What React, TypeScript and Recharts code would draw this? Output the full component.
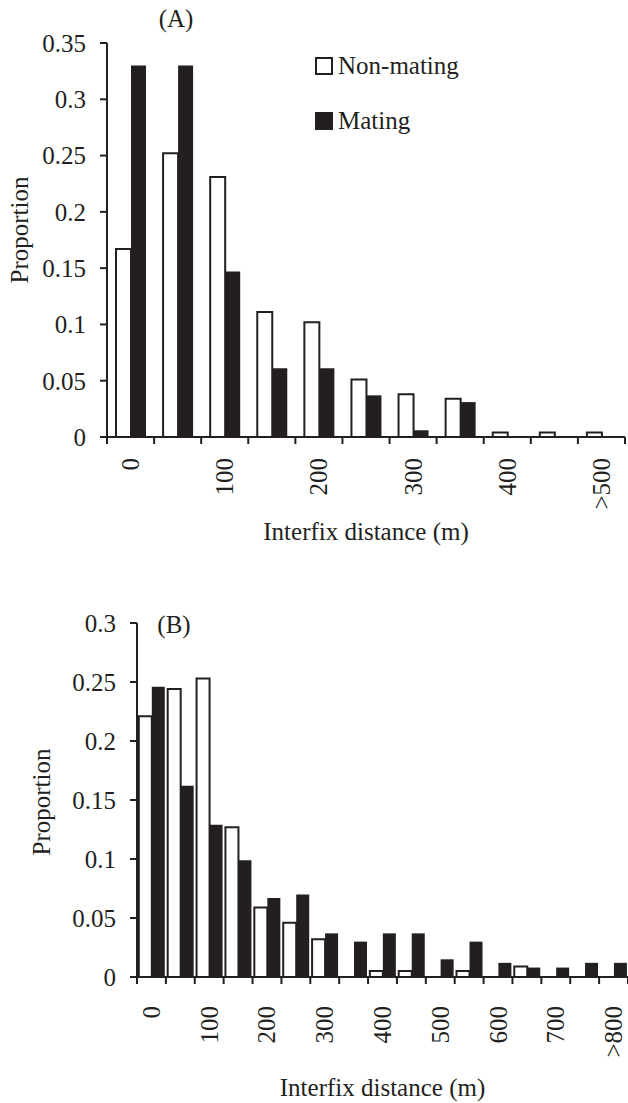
import React from 'react'
import { BarChart, Bar, XAxis, YAxis, Legend } from 'recharts'

// panel A: 50 m bins
const binsA = ['0', '50', '100', '150', '200', '250', '300', '350', '400', '450', '>500']
const labelsA = ['0', '', '100', '', '200', '', '300', '', '400', '', '>500']
const nonMatingA = [0.167, 0.252, 0.231, 0.111, 0.102, 0.051, 0.038, 0.034, 0.004, 0.004, 0.004]
const matingA = [0.33, 0.33, 0.147, 0.061, 0.061, 0.037, 0.006, 0.031, 0, 0, 0]
const yTicksA = [0, 0.05, 0.1, 0.15, 0.2, 0.25, 0.3, 0.35]

// panel B: 50 m bins
const binsB = ['0', '50', '100', '150', '200', '250', '300', '350', '400', '450', '500', '550', '600', '650', '700', '750', '>800']
const labelsB = ['0', '', '100', '', '200', '', '300', '', '400', '', '500', '', '600', '', '700', '', '>800']
const nonMatingB = [0.221, 0.244, 0.253, 0.127, 0.059, 0.046, 0.032, 0, 0.005, 0.005, 0, 0.005, 0, 0.009, 0, 0, 0]
const matingB = [0.246, 0.162, 0.129, 0.099, 0.067, 0.07, 0.037, 0.03, 0.037, 0.037, 0.015, 0.03, 0.012, 0.008, 0.008, 0.012, 0.012]
const yTicksB = [0, 0.05, 0.1, 0.15, 0.2, 0.25, 0.3]

const seriesNames = ['Non-mating', 'Mating']

const ink = '#231f20'
const font = '"Liberation Serif", "Times New Roman", serif'

const dataA = binsA.map((bin, i) => ({ bin, nonMating: nonMatingA[i], mating: matingA[i] }))
const dataB = binsB.map((bin, i) => ({ bin, nonMating: nonMatingB[i], mating: matingB[i] }))

// ticks sit on bin edges, labels are rotated under every other bin
// eslint-disable-next-line @typescript-eslint/no-explicit-any
const makeTick = (labels: string[], gap: number) => (props: any) => {
  const { x, y, payload, index } = props
  const half = payload?.offset ?? 0
  return (
    <g>
      <line x1={x - half} x2={x - half} y1={y} y2={y + 7} stroke={ink} strokeWidth={2} />
      {index === labels.length - 1 && (
        <line x1={x + half} x2={x + half} y1={y} y2={y + 7} stroke={ink} strokeWidth={2} />
      )}
      <text
        transform={`translate(${x},${y + gap}) rotate(-90)`}
        textAnchor="end"
        dy="0.34em"
        fill={ink}
        fontSize={25}
        fontFamily={font}
      >
        {labels[index]}
      </text>
    </g>
  )
}

const LegendBox = () => (
  <div style={{ fontFamily: font, fontSize: 25, color: ink }}>
    {seriesNames.map((name, i) => (
      <div key={name} style={{ display: 'flex', alignItems: 'center', height: 36, marginTop: i ? 19 : 0 }}>
        <div
          style={{
            width: 18,
            height: 18,
            boxSizing: 'border-box',
            border: `2px solid ${ink}`,
            background: i ? ink : '#fff',
          }}
        />
        <span style={{ marginLeft: 5, whiteSpace: 'nowrap' }}>{name}</span>
      </div>
    ))}
  </div>
)

const yTick = { fill: ink, fontSize: 25, fontFamily: font }
const line = { stroke: ink, strokeWidth: 2 }
const xLabel = (offset: number) => ({
  value: 'Interfix distance (m)',
  position: 'insideBottom' as const,
  offset,
  fill: ink,
  fontSize: 25,
  fontFamily: font,
})

export default function App() {
  return (
    <div style={{ position: 'absolute', left: 0, top: 0, width: 628, height: 1103, background: '#fff' }}>
      <BarChart
        width={628}
        height={580}
        data={dataA}
        margin={{ top: 43, right: 3, bottom: 0, left: 0 }}
        barCategoryGap={9}
        barGap={0}
      >
        <YAxis
          type="number"
          width={107}
          domain={[0, 0.35]}
          ticks={yTicksA}
          interval={0}
          tick={yTick}
          tickSize={7}
          tickMargin={14}
          tickLine={line}
          axisLine={line}
        />
        <XAxis
          dataKey="bin"
          height={143}
          interval={0}
          tickLine={false}
          tickSize={0}
          tickMargin={0}
          tick={makeTick(labelsA, 21)}
          axisLine={line}
          label={xLabel(40)}
        />
        <Legend
          layout="vertical"
          align="center"
          verticalAlign="middle"
          wrapperStyle={{ left: 315, top: 48, width: 200 }}
          content={() => <LegendBox />}
        />
        <Bar dataKey="nonMating" name={seriesNames[0]} fill="#fff" stroke={ink} strokeWidth={2} isAnimationActive={false} />
        <Bar dataKey="mating" name={seriesNames[1]} fill={ink} isAnimationActive={false} />
        <text x={176} y={27} textAnchor="middle" fill={ink} fontSize={25} fontFamily={font}>(A)</text>
        <text transform="translate(28,230) rotate(-90)" textAnchor="middle" fill={ink} fontSize={25} fontFamily={font}>
          Proportion
        </text>
      </BarChart>
      <BarChart
        width={628}
        height={523}
        data={dataB}
        margin={{ top: 43, right: 0, bottom: 0, left: 0 }}
        barCategoryGap={1.8}
        barGap={0}
      >
        <YAxis
          type="number"
          width={137}
          domain={[0, 0.3]}
          ticks={yTicksB}
          interval={0}
          tick={yTick}
          tickSize={7}
          tickMargin={14}
          tickLine={line}
          axisLine={line}
        />
        <XAxis
          dataKey="bin"
          height={126}
          interval={0}
          tickLine={false}
          tickSize={0}
          tickMargin={0}
          tick={makeTick(labelsB, 29)}
          axisLine={line}
          label={xLabel(7)}
        />
        <Bar dataKey="nonMating" name={seriesNames[0]} fill="#fff" stroke={ink} strokeWidth={2} isAnimationActive={false} />
        <Bar dataKey="mating" name={seriesNames[1]} fill={ink} isAnimationActive={false} />
        <text x={174} y={53} textAnchor="middle" fill={ink} fontSize={25} fontFamily={font}>(B)</text>
        <text transform="translate(50,222) rotate(-90)" textAnchor="middle" fill={ink} fontSize={25} fontFamily={font}>
          Proportion
        </text>
      </BarChart>
    </div>
  )
}
